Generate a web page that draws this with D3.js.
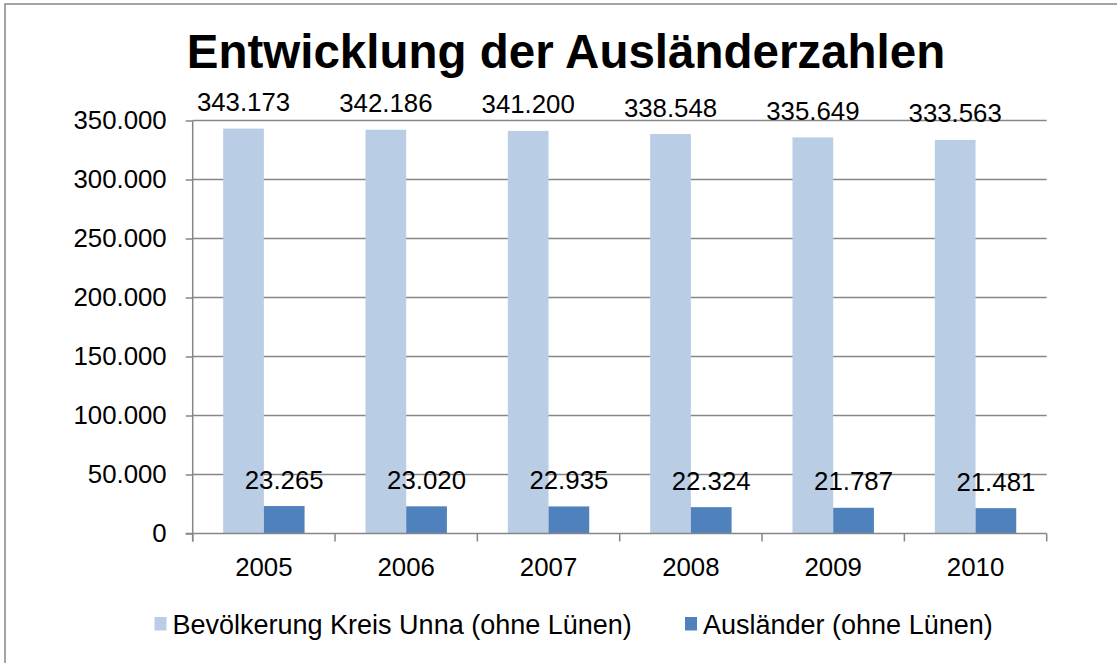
<!DOCTYPE html>
<html>
<head>
<meta charset="utf-8">
<script src="https://cdn.jsdelivr.net/npm/d3@7"></script>
<style>
  html,body{margin:0;padding:0;background:#fff;}
  svg{display:block;font-family:"Liberation Sans",Arial,sans-serif;}
</style>
</head>
<body>
<div id="chart"></div>
<script>
const years = ["2005","2006","2007","2008","2009","2010"];
const seriesNames = ["Bevölkerung Kreis Unna (ohne Lünen)","Ausländer (ohne Lünen)"];
const bevoelkerung = [343173,342186,341200,338548,335649,333563];
const auslaender = [23265,23020,22935,22324,21787,21481];
const yTicks = [0,50000,100000,150000,200000,250000,300000,350000];
const colors = ["#b9cde5","#4f81bd"];

const W = 1117, H = 663;
const plotL = 192.7, plotR = 1046.7, plotT = 120.5, plotB = 533.5;

const svg = d3.select("#chart").append("svg")
  .attr("width",W).attr("height",H);

// outer frame (only top/left visible in the picture)
svg.append("rect")
  .attr("x",5).attr("y",4)
  .attr("width",W+20).attr("height",H+20)
  .attr("fill","#fff")
  .attr("stroke","#868686")
  .attr("stroke-width",1.5);

svg.append("text")
  .attr("x",566).attr("y",68)
  .attr("text-anchor","middle")
  .style("font-size","47.5px")
  .style("font-weight","bold")
  .text("Entwicklung der Ausländerzahlen");

const x = d3.scaleBand()
  .domain(years)
  .range([plotL,plotR])
  .paddingInner(0.428)
  .paddingOuter(0.214);

const xs = d3.scaleBand()
  .domain([0,1])
  .range([0,x.bandwidth()]);

const y = d3.scaleLinear()
  .domain([0,350000])
  .range([plotB,plotT]);

const fmt = d3.formatLocale({decimal:",",thousands:".",grouping:[3],currency:["","€"]}).format(",d");

// gridlines
svg.append("g").selectAll("line")
  .data(yTicks.filter(d=>d>0))
  .enter().append("line")
  .attr("x1",plotL).attr("x2",plotR)
  .attr("y1",d=>y(d)).attr("y2",d=>y(d))
  .attr("stroke","#868686")
  .attr("stroke-width",1.5);

// bars
const data = years.map((yr,i)=>({yr, vals:[bevoelkerung[i],auslaender[i]]}));

const grp = svg.append("g").selectAll("g")
  .data(data)
  .enter().append("g")
  .attr("transform",d=>"translate("+x(d.yr)+",0)");

grp.selectAll("rect")
  .data(d=>d.vals.map((v,k)=>({v,k})))
  .enter().append("rect")
  .attr("x",d=>xs(d.k))
  .attr("width",xs.bandwidth())
  .attr("y",d=>y(d.v))
  .attr("height",d=>plotB-y(d.v))
  .attr("fill",d=>colors[d.k]);

grp.selectAll("text")
  .data(d=>d.vals.map((v,k)=>({v,k})))
  .enter().append("text")
  .attr("x",d=>xs(d.k)+xs.bandwidth()/2)
  .attr("y",d=>y(d.v)-17.5)
  .attr("text-anchor","middle")
  .style("font-size","25.8px")
  .attr("fill","#000")
  .text(d=>fmt(d.v));

// y axis
const yAxis = d3.axisLeft(y)
  .tickValues(yTicks)
  .tickSize(7)
  .tickPadding(19)
  .tickFormat(d=>fmt(d));

const ga = svg.append("g")
  .attr("transform","translate("+plotL+",0)")
  .call(yAxis);
ga.select(".domain").attr("stroke","#868686").attr("stroke-width",1.5)
  .attr("d","M0,"+plotT+"V"+(plotB+8));
ga.selectAll(".tick line").attr("stroke","#868686").attr("stroke-width",1.5);
ga.selectAll(".tick text").style("font-size","25.8px")
  .style("font-family","'Liberation Sans',Arial,sans-serif").attr("fill","#000");

// x axis
const xAxis = d3.axisBottom(x).tickSize(0).tickPadding(24);
const gx = svg.append("g")
  .attr("transform","translate(0,"+plotB+")")
  .call(xAxis);
gx.select(".domain").attr("stroke","#868686").attr("stroke-width",1.5)
  .attr("d","M"+(plotL-7)+",0H"+plotR);
gx.selectAll(".tick text").style("font-size","25.8px")
  .style("font-family","'Liberation Sans',Arial,sans-serif").attr("fill","#000");

// category separators
gx.append("g").selectAll("line")
  .data(years.concat(["end"]))
  .enter().append("line")
  .attr("x1",(d,i)=>i<years.length ? x(d)-x.step()*x.paddingInner()/2 : plotR)
  .attr("x2",(d,i)=>i<years.length ? x(d)-x.step()*x.paddingInner()/2 : plotR)
  .attr("y1",0).attr("y2",8)
  .attr("stroke","#868686").attr("stroke-width",1.5);

// legend
const legX = [154.5, 685];
const leg = svg.append("g").selectAll("g")
  .data(seriesNames)
  .enter().append("g")
  .attr("transform",(d,i)=>"translate("+legX[i]+",617)");
leg.append("rect")
  .attr("width",12).attr("height",13.5)
  .attr("fill",(d,i)=>colors[i]);
leg.append("text")
  .attr("x",18).attr("y",16.5)
  .style("font-size","27px")
  .text(d=>d);
</script>
</body>
</html>
